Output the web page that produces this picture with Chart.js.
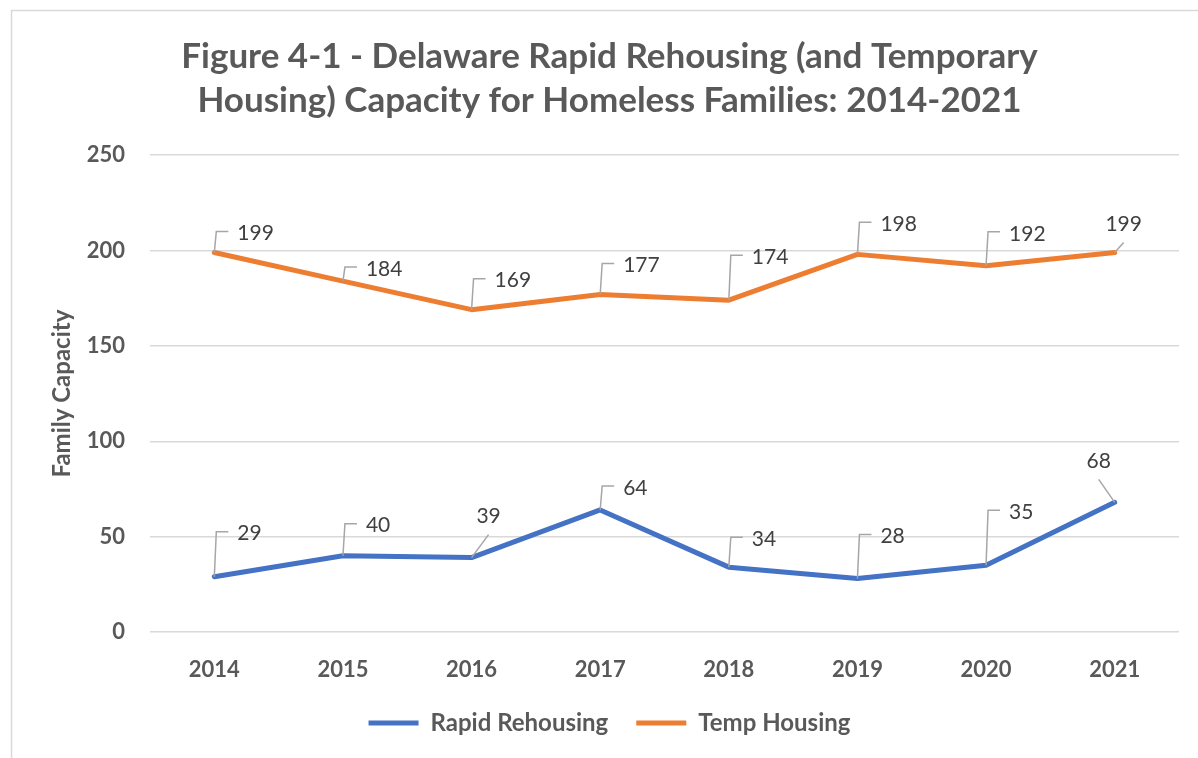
<!DOCTYPE html>
<html>
<head>
<meta charset="utf-8">
<script src="https://cdn.jsdelivr.net/npm/chart.js@4.4.0/dist/chart.umd.min.js"></script>
<style>
  html, body { margin: 0; padding: 0; background: #ffffff; }
  #wrap { width: 1198px; height: 758px; }
</style>
</head>
<body>
<div id="wrap"><canvas id="myChart" width="1198" height="758"></canvas></div>
<script>
const years = ['2014', '2015', '2016', '2017', '2018', '2019', '2020', '2021'];
const rapidRehousing = [29, 40, 39, 64, 34, 28, 35, 68];
const tempHousing = [199, 184, 169, 177, 174, 198, 192, 199];
const yTicks = [0, 50, 100, 150, 200, 250];

// label callout placement (like Excel's leader lines): ['side', rise] or ['up', dx, rise]
const rapidLabelPos = [['side', 45], ['side', 32], ['up', 17, 23], ['side', 24], ['side', 30], ['side', 44], ['side', 55], ['up', -16, 23]];
const tempLabelPos = [['side', 21], ['side', 14], ['side', 31], ['side', 31], ['side', 45], ['side', 32], ['side', 34], ['up', 9, 10]];

const FONT = 'Lato, "Open Sans", sans-serif';
const GREY = '#595959';

const calloutLabels = {
    id: 'calloutLabels',
    afterDatasetsDraw(chart) {
        const ctx = chart.ctx;
        ctx.save();
        ctx.font = '21px ' + FONT;
        ctx.fillStyle = '#404040';
        ctx.strokeStyle = '#a6a6a6';
        ctx.lineWidth = 1.5;
        chart.data.datasets.forEach((ds, i) => {
            const meta = chart.getDatasetMeta(i);
            const pos = ds.labelPos;
            meta.data.forEach((pt, j) => {
                const p = pos[j];
                const x = pt.x, y = pt.y;
                const txt = String(ds.data[j]);
                ctx.beginPath();
                if (p[0] === 'side') {
                    const top = y - p[1];
                    ctx.moveTo(x, y);
                    ctx.lineTo(x + 2, top);
                    ctx.lineTo(x + 14, top);
                    ctx.stroke();
                    ctx.textAlign = 'left';
                    ctx.textBaseline = 'middle';
                    ctx.fillText(txt, x + 23, top + 2);
                } else {
                    const ex = x + p[1], ey = y - p[2];
                    ctx.moveTo(x, y);
                    ctx.lineTo(ex, ey);
                    ctx.stroke();
                    ctx.textAlign = 'center';
                    ctx.textBaseline = 'middle';
                    ctx.fillText(txt, ex, ey - 18);
                }
            });
        });
        ctx.restore();
    }
};

const frame = {
    id: 'frame',
    beforeDraw(chart) {
        const ctx = chart.ctx;
        ctx.save();
        ctx.fillStyle = '#ffffff';
        ctx.fillRect(0, 0, chart.width, chart.height);
        ctx.strokeStyle = '#d9d9d9';
        ctx.lineWidth = 1.5;
        ctx.strokeRect(11.5, 10.5, chart.width + 20, chart.height + 20);
        ctx.restore();
    }
};

const ctx = document.getElementById('myChart').getContext('2d');

new Chart(ctx, {
    type: 'line',
    data: {
        labels: years,
        datasets: [{
            label: 'Rapid Rehousing',
            data: rapidRehousing,
            labelPos: rapidLabelPos,
            borderColor: '#4472c4',
            backgroundColor: '#4472c4',
            borderWidth: 5,
            pointRadius: 0,
            borderJoinStyle: 'round',
            borderCapStyle: 'round',
            tension: 0
        }, {
            label: 'Temp Housing',
            data: tempHousing,
            labelPos: tempLabelPos,
            borderColor: '#ed7d31',
            backgroundColor: '#ed7d31',
            borderWidth: 5,
            pointRadius: 0,
            borderJoinStyle: 'round',
            borderCapStyle: 'round',
            tension: 0
        }]
    },
    options: {
        responsive: false,
        animation: false,
        layout: {
            padding: { top: 35, left: 40, right: 19, bottom: 13 }
        },
        scales: {
            x: {
                offset: true,
                grid: { display: false },
                border: { display: false },
                ticks: {
                    color: GREY,
                    padding: 17,
                    font: { family: FONT, size: 22, weight: 'bold' }
                },
                afterFit: (scale) => { scale.height = 51; }
            },
            y: {
                min: 0,
                max: 250,
                afterBuildTicks: (scale) => { scale.ticks = yTicks.map(v => ({ value: v })); },
                grid: { color: '#d9d9d9', lineWidth: 1.5, drawTicks: false },
                border: { display: false },
                ticks: {
                    color: GREY,
                    padding: 25,
                    font: { family: FONT, size: 22, weight: 'bold' }
                },
                title: {
                    display: true,
                    text: 'Family Capacity',
                    color: GREY,
                    padding: { top: 8, bottom: 0 },
                    font: { family: FONT, size: 24, weight: 'bold' }
                },
                afterFit: (scale) => { scale.width = 110; }
            }
        },
        plugins: {
            title: {
                display: true,
                text: ['Figure 4-1 - Delaware Rapid Rehousing (and Temporary', 'Housing) Capacity for Homeless Families: 2014-2021'],
                color: GREY,
                padding: { top: 0, bottom: 32 },
                font: { family: FONT, size: 35, weight: 'bold', lineHeight: 1.26 }
            },
            legend: {
                display: true,
                position: 'bottom',
                labels: {
                    color: GREY,
                    usePointStyle: true,
                    pointStyle: 'line',
                    pointStyleWidth: 50,
                    padding: 28,
                    font: { family: FONT, size: 24, weight: 'bold' }
                }
            },
            tooltip: { enabled: false }
        }
    },
    plugins: [frame, calloutLabels]
});
</script>
</body>
</html>
